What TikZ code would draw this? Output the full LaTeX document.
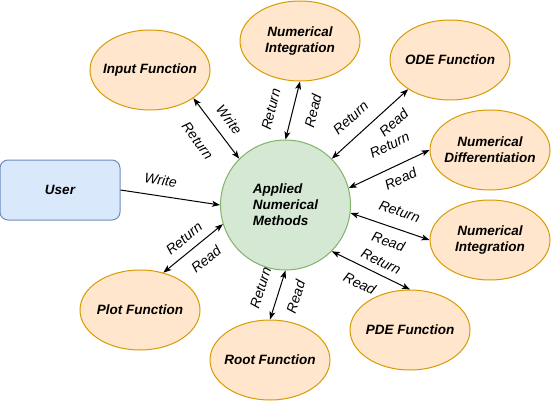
\documentclass[tikz,border=0pt]{standalone}
\usepackage{fontspec}
\setmainfont{Liberation Sans}
\usepackage{tikz}
\usetikzlibrary{shapes.geometric,arrows.meta}
\definecolor{fnfill}{HTML}{FFE6CC}
\definecolor{fnline}{HTML}{D79B00}
\definecolor{anmfill}{HTML}{D5E8D4}
\definecolor{anmline}{HTML}{82B366}
\definecolor{userfill}{HTML}{DAE8FC}
\definecolor{userline}{HTML}{6C8EBF}

\begin{document}
\begin{tikzpicture}[-,>={Stealth[length=8pt,width=6pt,inset=2pt]},x=1pt,y=-1pt,line width=1pt,
  fn node/.style={ellipse,draw=fnline,fill=fnfill,minimum width=120pt,minimum height=80pt,inner sep=0pt},
  fn text/.style={font=\fontsize{13.5}{16}\selectfont\bfseries\itshape,align=center},
  anm node/.style={circle,draw=anmline,fill=anmfill,minimum size=130pt,inner sep=0pt,align=left,
    font=\fontsize{13.5}{16}\selectfont\bfseries\itshape},
  user node/.style={rectangle,rounded corners=8pt,draw=userline,fill=userfill,minimum width=120pt,
    minimum height=60pt,font=\fontsize{13.5}{16}\selectfont\bfseries\itshape},
  lbl/.style={font=\fontsize{14}{16}\selectfont\itshape,sloped,inner sep=2pt}]
  \useasboundingbox (0,0) rectangle (551,401);

  \node[anm node] (anm) at (285.5,205) {Applied\\Numerical\\Methods};
  \node[user node] (user) at (60,190) {User};
  \node[fn node,label={[fn text]center:Input Function}] (inp) at (150,70) {};
  \node[fn node,label={[fn text]center:Numerical\\Integration}] (nint) at (300,41) {};
  \node[fn node,label={[fn text]center:ODE Function}] (ode) at (450,60) {};
  \node[fn node,label={[fn text]center:Numerical\\Differentiation}] (ndiff) at (490,150) {};
  \node[fn node,label={[fn text]center:Numerical\\Integration}] (nint2) at (490,240) {};
  \node[fn node,label={[fn text]center:PDE Function}] (pde) at (410,330) {};
  \node[fn node,label={[fn text]center:Root Function}] (root) at (270,360) {};
  \node[fn node,label={[fn text]center:Plot Function}] (plot) at (140,310) {};

  \path[->] (user.east) edge node[lbl,above=8pt,pos=0.38] {Write} (anm.west);

  \path[<->]
    (anm.135) edge node[lbl,above=8pt,pos=0.49] {Write} node[lbl,below=15pt,pos=0.52] {Return} (inp.-33)
    (anm.north) edge node[lbl,above=14pt,pos=0.43] {Return} node[lbl,below=12pt,pos=0.58] {Read} (nint.south)
    (anm.45) edge node[lbl,above=10pt,pos=0.40] {Return} node[lbl,below=7pt,pos=0.68] {Read} (ode.215)
    (anm.15) edge node[lbl,above=14pt,pos=0.62] {Return} node[lbl,below=6pt,pos=0.57] {Read} (ndiff.west)
    (anm.-7) edge node[lbl,above=10pt,pos=0.55] {Return} node[lbl,below=7pt,pos=0.54] {Read} (nint2.west)
    (anm.-45) edge node[lbl,above=5pt,pos=0.56] {Return} node[lbl,below=9pt,pos=0.45] {Read} (pde.north)
    (anm.south) edge node[lbl,above=11pt,pos=0.47] {Return} node[lbl,below=10pt,pos=0.43] {Read} (root.north)
    (anm.197) edge node[lbl,above=6pt,pos=0.51] {Return} node[lbl,below=9pt,pos=0.46] {Read} (plot.58);
\end{tikzpicture}
\end{document}
